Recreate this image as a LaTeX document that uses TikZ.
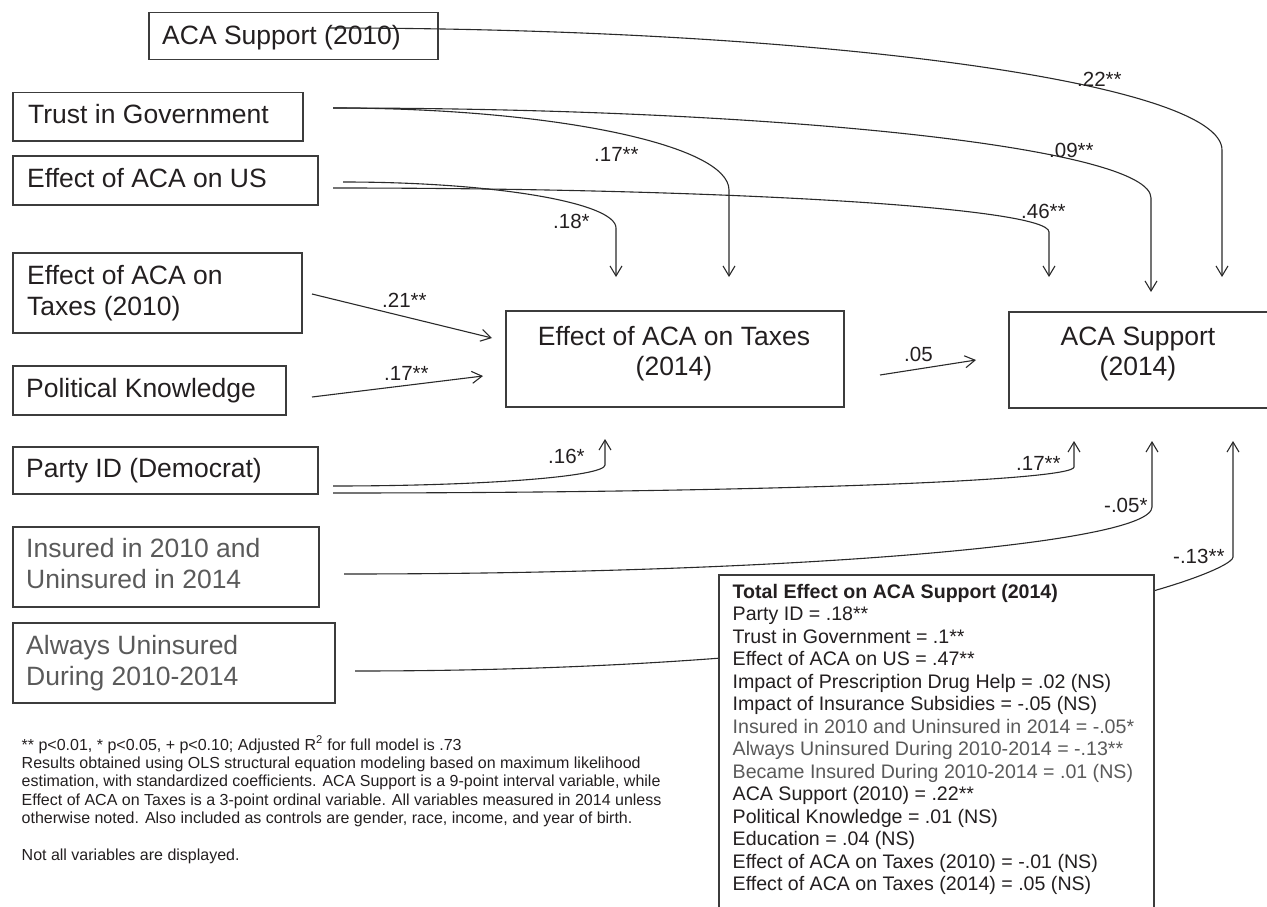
\documentclass[tikz,border=0pt]{standalone}
\usepackage{fontspec}
\setmainfont{Liberation Sans}
\usetikzlibrary{arrows.meta}
\definecolor{ink}{HTML}{231F20}
\definecolor{grayink}{HTML}{5A5A5A}
\definecolor{boxline}{HTML}{3C3C3C}
\definecolor{wirecol}{HTML}{2A2A2A}
\begin{document}
\begin{tikzpicture}[x=1pt,y=-1pt,
  box/.style={draw=boxline, line width=1.5pt, inner sep=0pt, anchor=north west},
  boxtext/.style={font=\fontsize{26.5}{30.5}\selectfont, text=ink, inner sep=0pt, anchor=base west, align=left},
  boxtextc/.style={font=\fontsize{26.5}{30}\selectfont, text=ink, inner sep=0pt, anchor=base, align=center},
  lab/.style={font=\fontsize{20.5}{24}\selectfont, text=ink, inner sep=0pt, anchor=base west},
  wire/.style={draw=wirecol, line width=1.1pt, -{Straight Barb[length=10pt,width=12pt]}},
  notes/.style={font=\fontsize{16}{18.4}\selectfont, text=ink, inner sep=0pt, anchor=base west, align=left},
  totaltext/.style={font=\fontsize{19.6}{22.5}\selectfont, text=ink, inner sep=0pt, anchor=base west, align=left}
]
\useasboundingbox (0,0) rectangle (1267,907);

% ---- boxes ----
\node[box, minimum width=289, minimum height=47] (aca10) at (148,12) {};
\node[box, minimum width=290, minimum height=48] (trust) at (12,92) {};
\node[box, minimum width=305, minimum height=49] (effus) at (12,155) {};
\node[box, minimum width=289, minimum height=80] (tax10) at (12,252) {};
\node[box, minimum width=273, minimum height=49] (polk) at (12,365) {};
\node[box, minimum width=305, minimum height=47] (party) at (12,446) {};
\node[box, minimum width=306, minimum height=80] (insured) at (12,526) {};
\node[box, minimum width=322, minimum height=80] (always) at (12,622) {};
\node[box, minimum width=338, minimum height=96] (tax14) at (505,310) {};
\node[box, minimum width=264, minimum height=96] (aca14) at (1008,311) {};

% ---- box texts (multi-line nodes: base = last line) ----
\node[boxtext] (aca10t) at (162,45) {ACA Support (2010)};
\node[boxtext] (trustt) at (28,124) {Trust in Government};
\node[boxtext] (effust) at (27,187) {Effect of ACA on US};
\node[boxtext] (tax10t) at (27,315) {Effect of ACA on\\Taxes (2010)};
\node[boxtext] (polkt) at (26,397) {Political Knowledge};
\node[boxtext] (partyt) at (26,477) {Party ID (Democrat)};
\node[boxtext, text=grayink] (insuredt) at (26,588) {Insured in 2010 and\\Uninsured in 2014};
\node[boxtext, text=grayink] (alwayst) at (26,685) {Always Uninsured\\During 2010-2014};
\node[boxtextc] (tax14t) at (674,375) {Effect of ACA on Taxes\\(2014)};
\node[boxtextc] (aca14t) at (1138,375) {ACA Support\\(2014)};

% ---- connector end points ----
\coordinate (o1) at (328,28);  \coordinate (c1) at (1222,150); \coordinate (t1) at (1222,277);
\coordinate (o2) at (333,108); \coordinate (c2) at (1151,198); \coordinate (t2) at (1151,292);
\coordinate (o3) at (333,108); \coordinate (c3) at (729,190);  \coordinate (t3) at (729,277);
\coordinate (o4) at (343,182); \coordinate (c4) at (616,228);  \coordinate (t4) at (616,277);
\coordinate (o5) at (333,188); \coordinate (c5) at (1049,232); \coordinate (t5) at (1049,277);
\coordinate (o6) at (333,486); \coordinate (c6) at (605,465);  \coordinate (t6) at (605,439);
\coordinate (o7) at (333,493); \coordinate (c7) at (1074,467); \coordinate (t7) at (1074,441);
\coordinate (o8) at (344,574); \coordinate (c8) at (1152,507); \coordinate (t8) at (1152,441);
\coordinate (o9) at (355,671); \coordinate (c9) at (1233,557); \coordinate (t9) at (1233,441);
\coordinate (o10) at (312,294); \coordinate (t10) at (492,338);
\coordinate (o11) at (312,397); \coordinate (t11) at (483,376);
\coordinate (o12) at (880,375); \coordinate (t12) at (976,360);

% ---- curved connectors ----
\draw[wire] (o1) .. controls (822,28) and (1222,83) .. (c1) -- (t1);
\draw[wire] (o2) .. controls (784.5,108) and (1151,148.3) .. (c2) -- (t2);
\draw[wire] (o3) .. controls (551.7,108) and (729,144.7) .. (c3) -- (t3);
\draw[wire] (o4) .. controls (493.8,182) and (616,202.6) .. (c4) -- (t4);
\draw[wire] (o5) .. controls (728.5,188) and (1049,207.7) .. (c5) -- (t5);
\draw[wire] (o6) .. controls (483.2,486) and (605,476.6) .. (c6) -- (t6);
\draw[wire] (o7) .. controls (742.3,493) and (1074,481.4) .. (c7) -- (t7);
\draw[wire] (o8) .. controls (790.3,574) and (1152,544) .. (c8) -- (t8);
\draw[wire] (o9) .. controls (970,671) and (1233,574) .. (c9) -- (t9);

% ---- straight connectors ----
\draw[wire] (o10) -- (t10);
\draw[wire] (o11) -- (t11);
\draw[wire] (o12) -- (t12);

% ---- coefficient labels ----
\node[lab] (l1) at (1077,86) {.22**};
\node[lab] (l2) at (1049,157) {.09**};
\node[lab] (l3) at (594,161) {.17**};
\node[lab] (l4) at (553,228) {.18*};
\node[lab] (l5) at (1021,218) {.46**};
\node[lab] (l6) at (548,463) {.16*};
\node[lab] (l7) at (1016,470) {.17**};
\node[lab] (l8) at (1104,512) {-.05*};
\node[lab] (l9) at (1173,563) {-.13**};
\node[lab] (l10) at (382,307) {.21**};
\node[lab] (l11) at (384,380) {.17**};
\node[lab] (l12) at (904,361) {.05};

% ---- total effect box ----
\node[box, fill=white, minimum width=435, minimum height=350] (total) at (718,574) {};
\node[totaltext] (totalt) at (732.5,890.5) {\textbf{Total Effect on ACA Support (2014)}\\
Party ID = .18**\\
Trust in Government = .1**\\
Effect of ACA on US = .47**\\
Impact of Prescription Drug Help = .02 (NS)\\
Impact of Insurance Subsidies = -.05 (NS)\\
{\color{grayink}Insured in 2010 and Uninsured in 2014 = -.05*}\\
{\color{grayink}Always Uninsured During 2010-2014 = -.13**}\\
{\color{grayink}Became Insured During 2010-2014 = .01 (NS)}\\
ACA Support (2010) = .22**\\
Political Knowledge = .01 (NS)\\
Education = .04 (NS)\\
Effect of ACA on Taxes (2010) = -.01 (NS)\\
Effect of ACA on Taxes (2014) = .05 (NS)};

% ---- notes ----
\node[notes] (notest) at (21.5,860.4) {** p<0.01, * p<0.05, + p<0.10; Adjusted R\textsuperscript{2} for full model is .73\\
Results obtained using OLS structural equation modeling based on maximum likelihood\\
estimation, with standardized coefficients. ACA Support is a 9-point interval variable, while\\
Effect of ACA on Taxes is a 3-point ordinal variable. All variables measured in 2014 unless\\
otherwise noted. Also included as controls are gender, race, income, and year of birth.\\[18.4pt]
Not all variables are displayed.};
\end{tikzpicture}
\end{document}
